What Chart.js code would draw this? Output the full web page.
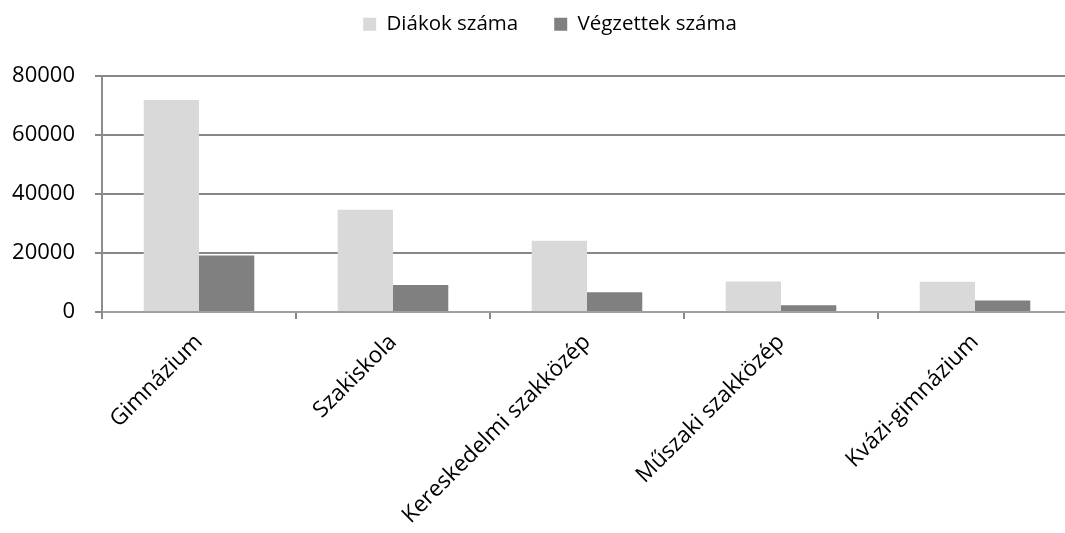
<!DOCTYPE html>
<html>
<head>
<meta charset="utf-8">
<script src="https://cdn.jsdelivr.net/npm/chart.js@4.4.1/dist/chart.umd.min.js"></script>
<style>
    html, body { margin: 0; padding: 0; background: #fff; overflow: hidden; }
    #wrap { width: 1072px; height: 533px; }
</style>
</head>
<body>
<div id="wrap"><canvas id="barChart"></canvas></div>
<script>
// Iskolatípusok
const categories = ['Gimnázium', 'Szakiskola', 'Kereskedelmi szakközép', 'Műszaki szakközép', 'Kvázi-gimnázium'];
const diakokSzama = [71700, 34600, 24100, 10350, 10250];
const vegzettekSzama = [19100, 9100, 6650, 2250, 3850];
const yTicks = [0, 20000, 40000, 60000, 80000];

const FONT = "'Open Sans', sans-serif";
const LEGEND_EXTRA = 31; // extra space below the legend
const LEGEND_SHIFT = 28; // legend sits a bit right of the canvas centre

// pushes the plot down below the legend and nudges the legend right
const legendSpacer = {
    id: 'legendSpacer',
    beforeInit(chart) {
        const legend = chart.legend;
        if (!legend) return;
        const fit = legend.fit;
        legend.fit = function () {
            fit.call(this);
            this.height += LEGEND_EXTRA;
        };
    },
    beforeDraw(chart) {
        const legend = chart.legend;
        if (!legend || legend._shifted) return;
        legend.left += LEGEND_SHIFT;
        legend._shifted = true;
    },
    afterLayout(chart) {
        if (chart.legend) chart.legend._shifted = false;
    },
};

const ctx = document.getElementById('barChart').getContext('2d');
new Chart(ctx, {
    type: 'bar',
    data: {
        labels: categories,
        datasets: [
            {
                label: 'Diákok száma',
                data: diakokSzama,
                backgroundColor: '#d9d9d9',
                borderWidth: 0,
            },
            {
                label: 'Végzettek száma',
                data: vegzettekSzama,
                backgroundColor: '#808080',
                borderWidth: 0,
            },
        ],
    },
    plugins: [legendSpacer],
    options: {
        responsive: true,
        maintainAspectRatio: false,
        animation: false,
        layout: {
            padding: { left: 0, right: 0, top: -22, bottom: 0 },
        },
        datasets: {
            bar: {
                categoryPercentage: 0.57,
                barPercentage: 1.0,
            },
        },
        plugins: {
            legend: {
                position: 'top',
                labels: {
                    font: { family: FONT, size: 20.5 },
                    color: '#000',
                    boxWidth: 13,
                    boxHeight: 13,
                    padding: 36,
                },
            },
            tooltip: { enabled: false },
        },
        scales: {
            x: {
                grid: {
                    display: true,
                    drawOnChartArea: false,
                    drawTicks: true,
                    tickLength: 7,
                    color: '#888',
                    lineWidth: 2,
                },
                border: { color: '#a0a0a0', width: 2 },
                ticks: {
                    font: { family: FONT, size: 22.5 },
                    color: '#000',
                    minRotation: 45,
                    maxRotation: 45,
                    padding: 10,
                },
                afterFit: (scale) => { scale.height = 221; },
            },
            y: {
                min: 0,
                max: 80000,
                afterBuildTicks: (scale) => {
                    scale.ticks = yTicks.map((v) => ({ value: v }));
                },
                grid: {
                    color: '#878787',
                    lineWidth: 2,
                    tickLength: 7,
                },
                border: { color: '#8c8c8c', width: 2 },
                ticks: {
                    font: { family: FONT, size: 22 },
                    color: '#000',
                    padding: 20,
                    callback: (value) => String(value),
                },
                afterFit: (scale) => { scale.width = 102; },
            },
        },
    },
});
</script>
</body>
</html>
